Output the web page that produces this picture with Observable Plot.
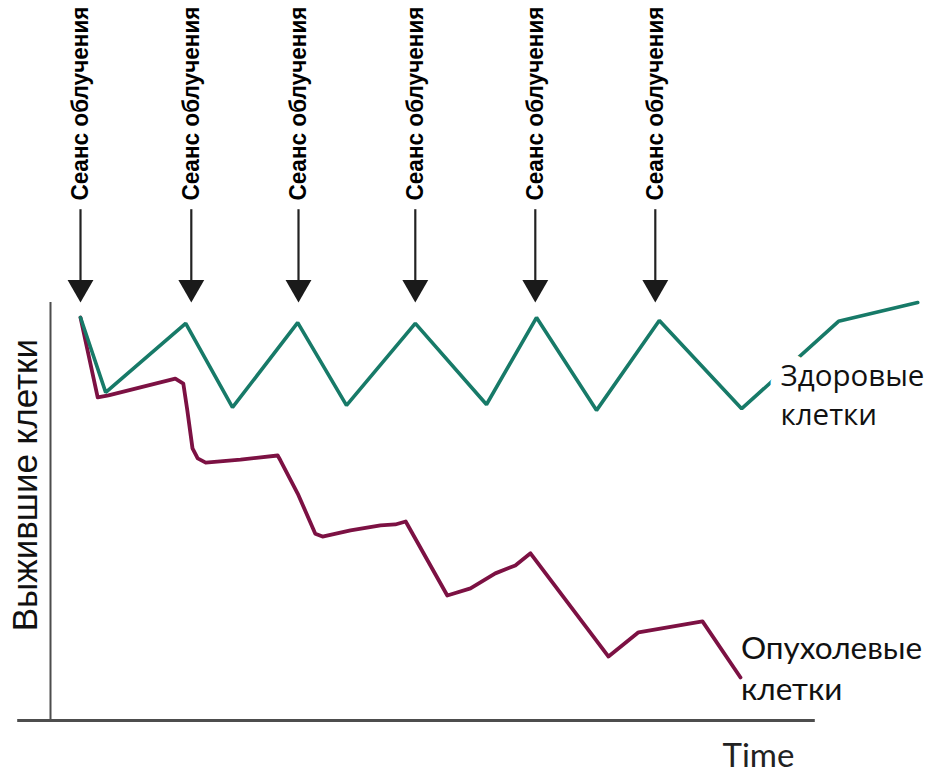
<!DOCTYPE html>
<html>
<head>
<meta charset="utf-8">
<script src="https://cdn.jsdelivr.net/npm/d3@7"></script>
<script src="https://cdn.jsdelivr.net/npm/@observablehq/plot@0.6"></script>
<style>
  html, body { margin: 0; padding: 0; background: #fff; }
  #chart svg { display: block; }
</style>
</head>
<body>
<div id="chart"></div>
<script>
// Irradiation sessions (time units)
const sessions = [3.75, 17.6, 31.0, 45.6, 60.6, 75.6];
const sessionLabel = "Сеанс облучения";

// Healthy cells: time and surviving fraction
const healthyT = [3.75, 6.9, 16.9, 22.75, 30.9, 37.0, 45.6, 54.5, 60.75, 68.25, 76.1, 86.4, 98.5, 108.4];
const healthyV = [96.4, 78.5, 95.0, 74.9, 95.2, 75.4, 95.0, 75.6, 96.4, 74.2, 95.7, 74.6, 95.5, 100];

// Tumour cells: time and surviving fraction
const tumorT = [3.75, 5.9, 7.25, 15.6, 16.6, 17.1, 17.75, 18.4, 19.4, 23.75, 28.4, 28.75, 30.9, 33.1, 34.0, 37.5, 41.25, 43.1, 44.4, 49.6, 52.5, 55.6, 58.1, 60.0, 69.75, 73.5, 81.5, 86.25];
const tumorV = [96.4, 77.3, 77.8, 81.8, 80.6, 74.2, 65.1, 62.7, 61.7, 62.4, 63.4, 62.2, 54.3, 44.7, 44.0, 45.5, 46.7, 46.9, 47.6, 29.9, 31.6, 35.2, 37.1, 40.0, 15.3, 21.1, 23.7, 10.3];

const yLabel = "Выжившие клетки";
const xLabel = "Time";
const healthyLabel = ["Здоровые", "клетки"];
const tumorLabel = ["Опухолевые", "клетки"];

const healthy = healthyT.map((t, i) => ({t, v: healthyV[i]}));
const tumor = tumorT.map((t, i) => ({t, v: tumorV[i]}));

const green = "#177a68";
const maroon = "#7c1143";
const axisColor = "#4d4d4d";

const chart = Plot.plot({
  width: 939,
  height: 774,
  margin: 0,
  x: {domain: [0, 100], range: [50, 850], axis: null},
  y: {domain: [0, 100], range: [720, 302], axis: null},
  style: {background: "#fff", overflow: "visible"},
  marks: [
    // axes
    Plot.ruleX([0], {y1: 0, y2: 100, stroke: axisColor, strokeWidth: 2}),
    Plot.ruleY([0], {x1: -4.1, x2: 95.6, stroke: axisColor, strokeWidth: 3}),
    // series
    Plot.line(tumor, {x: "t", y: "v", stroke: maroon, strokeWidth: 3.8, strokeLinejoin: "round", strokeLinecap: "round"}),
    Plot.line(healthy, {x: "t", y: "v", stroke: green, strokeWidth: 3.6, strokeLinejoin: "miter"}),
    // session arrows
    Plot.ruleX(sessions, {y1: 104, y2: 122.2, stroke: "#222", strokeWidth: 2.2}),
    Plot.dot(sessions, {x: d => d, y: 103.6, symbol: "triangle", r: 9.6, rotate: 180, fill: "#1a1a1a", stroke: "none"}),
    Plot.text(sessions, {x: d => d, y: 124.4, text: () => sessionLabel, rotate: -90, textAnchor: "start", lineAnchor: "middle",
      className: "session-label",
      fontFamily: "'Liberation Sans', Arial, sans-serif", fontWeight: "bold", fontSize: 23, fill: "#000"}),
    // axis titles
    Plot.text([yLabel], {x: -3.1, y: 56.3, text: d => d, rotate: -90, textAnchor: "middle", lineAnchor: "middle",
      fontFamily: "'Liberation Sans', Arial, sans-serif", fontSize: 35, fill: "#111"}),
    Plot.text([xLabel], {x: 84, y: -11.2, text: d => d, textAnchor: "start", lineAnchor: "bottom",
      fontFamily: "Lato, sans-serif", fontSize: 33, fill: "#222"}),
    // series labels
    Plot.text(healthyLabel, {x: 91.25, y: (d, i) => [80.1, 70.6][i], text: d => d, textAnchor: "start", lineAnchor: "bottom",
      fontFamily: "'Open Sans', sans-serif", fontSize: 29.5, fill: "#111", stroke: "#fff", strokeWidth: 22, strokeLinejoin: "round"}),
    Plot.text(tumorLabel, {x: 86.3, y: (d, i) => [14.8, 4.8][i], text: d => d, textAnchor: "start", lineAnchor: "bottom",
      fontFamily: "Lato, sans-serif", fontSize: 31.5, fill: "#111"})
  ]
});

// fit the bold session labels to the length of the original
d3.select(chart).selectAll(".session-label text")
  .attr("textLength", 194)
  .attr("lengthAdjust", "spacingAndGlyphs");

document.getElementById("chart").appendChild(chart);
</script>
</body>
</html>
